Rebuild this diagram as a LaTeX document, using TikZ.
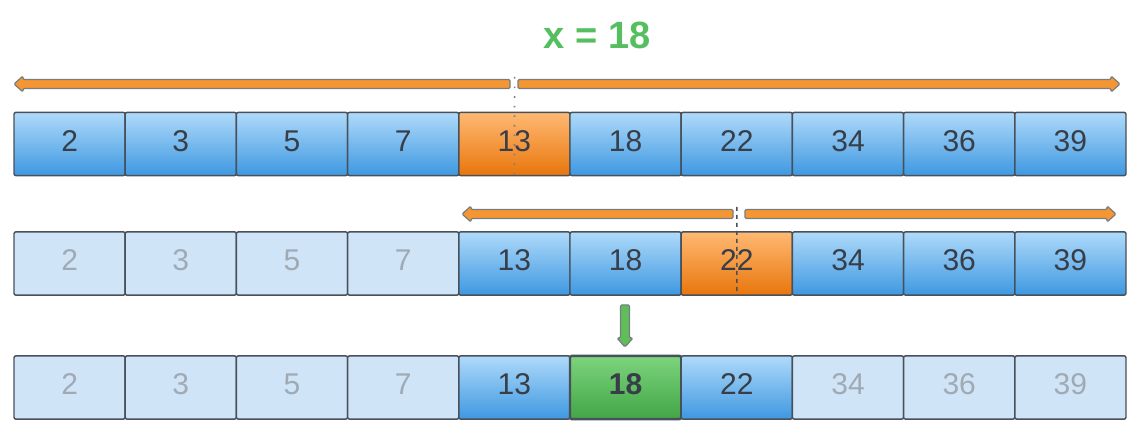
\documentclass[tikz,border=0pt]{standalone}
\usepackage{fontspec}
\setmainfont{Liberation Sans}
\definecolor{bluetop}{RGB}{175,218,250}
\definecolor{bluebot}{RGB}{62,152,225}
\definecolor{ortop}{RGB}{255,185,115}
\definecolor{orbot}{RGB}{232,118,12}
\definecolor{faded}{RGB}{207,228,247}
\definecolor{fadedtxt}{RGB}{160,170,180}
\definecolor{grtop}{RGB}{125,212,125}
\definecolor{grbot}{RGB}{65,165,70}
\definecolor{border}{RGB}{72,80,90}
\definecolor{celltxt}{RGB}{55,62,72}
\definecolor{arrfill}{RGB}{245,150,50}
\definecolor{arrline}{RGB}{120,125,130}
\definecolor{titlegreen}{RGB}{85,190,95}
\definecolor{greenarr}{RGB}{95,190,90}
\tikzset{
  cell/.style={draw=border, line width=1.1pt, rounded corners=1.5pt,
    minimum width=83.4pt, minimum height=47.5pt, inner sep=0pt, outer sep=0pt,
    text depth=4.5pt,
    font=\fontsize{22.5}{26}\selectfont, text=celltxt},
  active/.style={cell, top color=bluetop, bottom color=bluebot},
  mid/.style={cell, top color=ortop, bottom color=orbot},
  gone/.style={cell, fill=faded, text=fadedtxt},
  found/.style={cell, top color=grtop, bottom color=grbot, line width=1.8pt, font=\fontsize{22.5}{26}\selectfont\bfseries},
  harr/.style={fill=arrfill, draw=arrline, line width=0.9pt, rounded corners=1pt},
  varr/.style={fill=greenarr, draw=arrline, line width=0.9pt, rounded corners=1pt},
  dotsline/.style={draw=arrline, line width=1.2pt, dash pattern=on 1.2pt off 6pt},
  dashline/.style={draw=border, line width=1.2pt, dash pattern=on 3pt off 3pt}
}
\begin{document}
\begin{tikzpicture}[x=0.75pt, y=-0.75pt]
\useasboundingbox (0,0) rectangle (1140,434);
\node[text=titlegreen, font=\fontsize{28.5}{32}\selectfont\bfseries] (title) at (597,35) {x = 18};
% row 1
\foreach \v [count=\i] in {2,3,5,7,13,18,22,34,36,39} {
  \pgfmathsetmacro{\cx}{14+(\i-0.5)*111.2}
  \ifnum\i=5
    \node[mid] (a\i) at (\cx,144) {\v};
  \else
    \node[active] (a\i) at (\cx,144) {\v};
  \fi
}
% row 2
\foreach \v [count=\i] in {2,3,5,7,13,18,22,34,36,39} {
  \pgfmathsetmacro{\cx}{14+(\i-0.5)*111.2}
  \ifnum\i<5
    \node[gone] (b\i) at (\cx,263.5) {\v};
  \else\ifnum\i=7
    \node[mid] (b\i) at (\cx,263.5) {\v};
  \else
    \node[active] (b\i) at (\cx,263.5) {\v};
  \fi\fi
}
% row 3
\foreach \v [count=\i] in {2,3,5,7,13,18,22,34,36,39} {
  \pgfmathsetmacro{\cx}{14+(\i-0.5)*111.2}
  \ifnum\i<5
    \node[gone] (c\i) at (\cx,387.5) {\v};
  \else\ifnum\i=6
    \node[found] (c\i) at (\cx,387.5) {\v};
  \else\ifnum\i=7
    \node[active] (c\i) at (\cx,387.5) {\v};
  \else\ifnum\i=5
    \node[active] (c\i) at (\cx,387.5) {\v};
  \else
    \node[gone] (c\i) at (\cx,387.5) {\v};
  \fi\fi\fi\fi
}
% dotted split lines
\coordinate (d1) at (514.6,77);
\draw[dotsline] (d1) -- (a5.south);
\coordinate (d2) at (736.9,207);
\draw[dashline] (d2) -- (b7.south);
% top arrows (row 1)
\path[harr] (14,84) -- (23,76) -- (23,79.5) -- (510,79.5) -- (510,88.5) -- (23,88.5) -- (23,92) -- cycle;
\path[harr] (1120,84) -- (1111,76) -- (1111,79.5) -- (518,79.5) -- (518,88.5) -- (1111,88.5) -- (1111,92) -- cycle;
% row 2 arrows
\path[harr] (462,214) -- (471,206) -- (471,209.5) -- (733,209.5) -- (733,218.5) -- (471,218.5) -- (471,222) -- cycle;
\path[harr] (1116,214) -- (1107,206) -- (1107,209.5) -- (745,209.5) -- (745,218.5) -- (1107,218.5) -- (1107,222) -- cycle;
% green arrow
\path[varr] (625,347) -- (617,338) -- (620.5,338) -- (620.5,305) -- (629.5,305) -- (629.5,338) -- (633,338) -- cycle;
\end{tikzpicture}
\end{document}
